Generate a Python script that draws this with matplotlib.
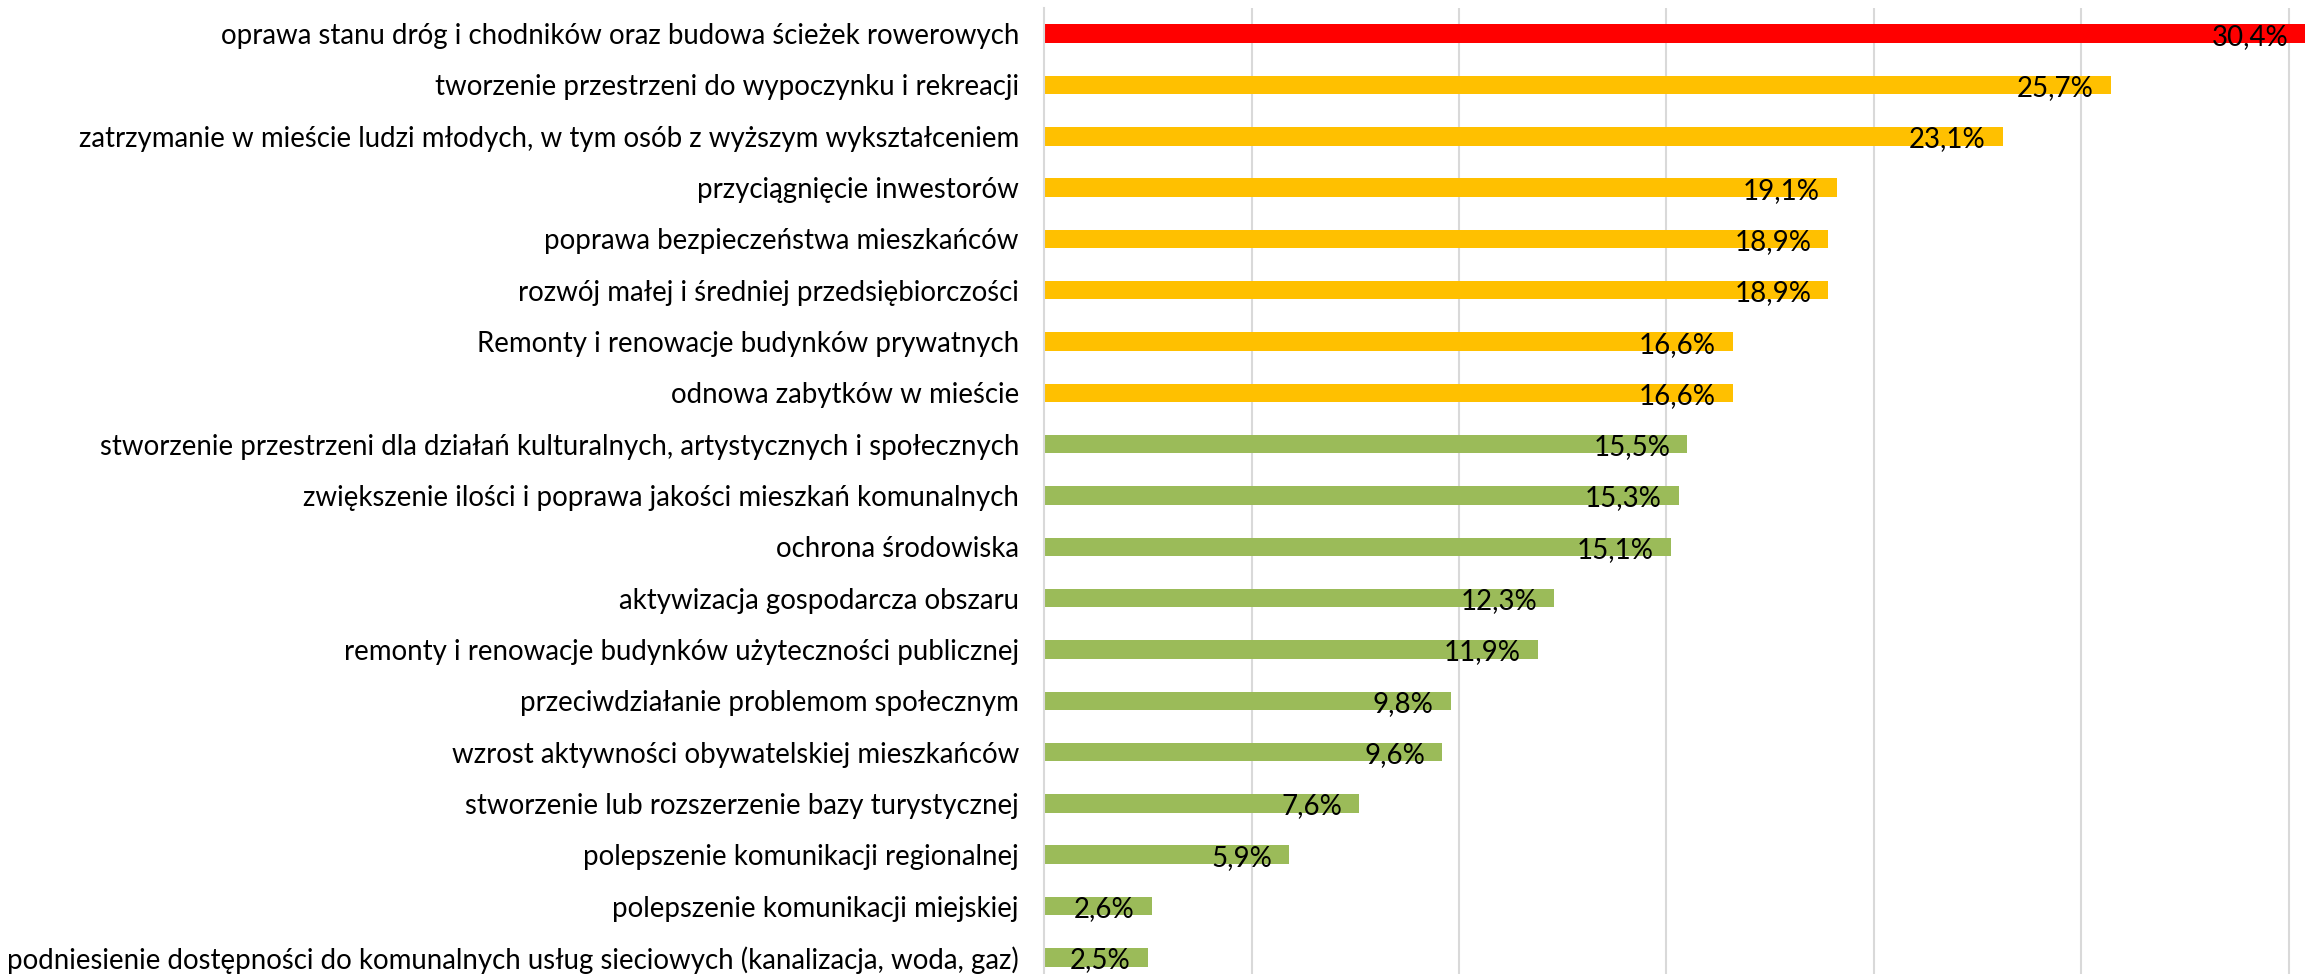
import matplotlib.pyplot as plt
from matplotlib import font_manager

# Cele rewitalizacji - odsetek wskazań
kategorie = [
    "oprawa stanu dróg i chodników oraz budowa ścieżek rowerowych",
    "tworzenie przestrzeni do wypoczynku i rekreacji",
    "zatrzymanie w mieście ludzi młodych, w tym osób z wyższym wykształceniem",
    "przyciągnięcie inwestorów",
    "poprawa bezpieczeństwa mieszkańców",
    "rozwój małej i średniej przedsiębiorczości",
    "Remonty i renowacje budynków prywatnych",
    "odnowa zabytków w mieście",
    "stworzenie przestrzeni dla działań kulturalnych, artystycznych i społecznych",
    "zwiększenie ilości i poprawa jakości mieszkań komunalnych",
    "ochrona środowiska",
    "aktywizacja gospodarcza obszaru",
    "remonty i renowacje budynków użyteczności publicznej",
    "przeciwdziałanie problemom społecznym",
    "wzrost aktywności obywatelskiej mieszkańców",
    "stworzenie lub rozszerzenie bazy turystycznej",
    "polepszenie komunikacji regionalnej",
    "polepszenie komunikacji miejskiej",
    "podniesienie dostępności do komunalnych usług sieciowych (kanalizacja, woda, gaz)",
]
wartosci = [30.4, 25.7, 23.1, 19.1, 18.9, 18.9, 16.6, 16.6, 15.5, 15.3,
            15.1, 12.3, 11.9, 9.8, 9.6, 7.6, 5.9, 2.6, 2.5]

fonty = {f.name for f in font_manager.fontManager.ttflist}
rodzina = ['Liberation Sans Narrow', 'DejaVu Sans'] if 'Liberation Sans Narrow' in fonty else ['Lato', 'DejaVu Sans']
plt.rcParams['font.family'] = rodzina
rozmiar = 19.9

kolory = ['#FF0000'] + ['#FFC000'] * 7 + ['#9BBB59'] * 11

W, H = 2305, 974
fig = plt.figure(figsize=(W / 100, H / 100), dpi=100)
lewo, gora, dol = 1044 / W, 1 - 8 / H, 1 - 983 / H
prawo = (1044 + 35 * 41.5) / W
ax = fig.add_axes([lewo, dol, prawo - lewo, gora - dol])

y = list(range(len(kategorie)))
ax.barh(y, wartosci, height=0.36, color=kolory, zorder=2)
ax.set_ylim(len(kategorie) - 0.5, -0.5)
ax.set_xlim(0, 35)

ax.set_yticks(y)
ax.set_yticklabels(kategorie, fontsize=rozmiar)
ax.set_xticks(range(5, 36, 5))
ax.set_xticklabels([])
ax.tick_params(length=0, pad=18)
ax.grid(axis='x', color='#D9D9D9', linewidth=1.5, zorder=0)
for s in ['top', 'right', 'bottom']:
    ax.spines[s].set_visible(False)
ax.spines['left'].set_color('#D9D9D9')
ax.spines['left'].set_linewidth(1.5)

for i, v in enumerate(wartosci):
    ax.annotate(f"{v:.1f}%".replace('.', ','), xy=(v, i), xytext=(-17, -3),
                textcoords='offset pixels', ha='right', va='center',
                fontsize=rozmiar, zorder=3)

fig.savefig('out.png', dpi=100)
